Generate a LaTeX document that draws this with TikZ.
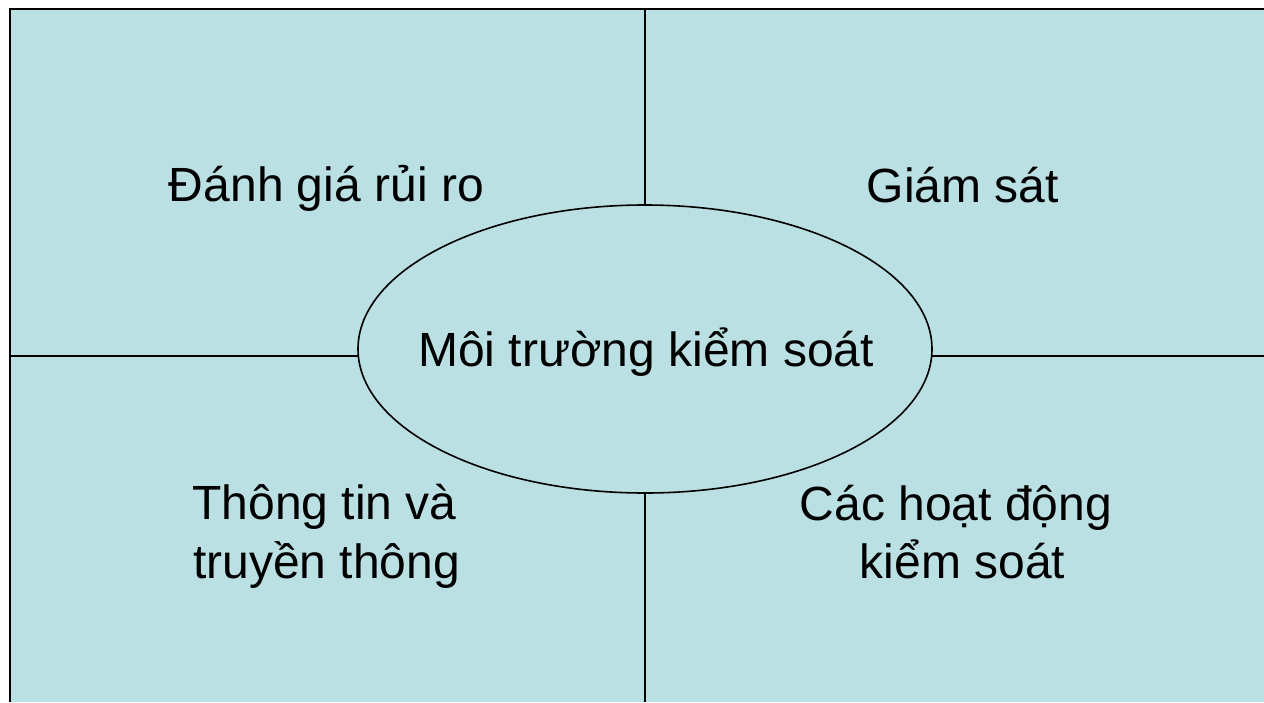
\documentclass[tikz,border=0pt]{standalone}
\usepackage{fontspec}
\setmainfont{Liberation Sans}
\usetikzlibrary{shapes.geometric}
\definecolor{panel}{RGB}{186,224,227}
\tikzset{
  lbl/.style={font=\fontsize{48}{56}\selectfont, inner sep=0pt, anchor=base, text=black},
  rule/.style={draw=black, line width=1.6pt},
  frame/.style={draw=black, line width=2pt},
}
\begin{document}
\begin{tikzpicture}[x=1pt,y=-1pt]
\useasboundingbox (0,0) rectangle (1264,702);
\fill[panel] (10,9) rectangle (1264,702);
\draw[frame] (9,9) -- (1264,9);
\draw[frame] (10,8) -- (10,702);
\coordinate (ntop) at (645,9);
\coordinate (nbot) at (645,702);
\coordinate (wl) at (10,356);
\coordinate (er) at (1264,356);
\draw[rule] (ntop) -- (nbot);
\draw[rule] (wl) -- (er);
\node[ellipse, draw=black, line width=1.6pt, fill=panel, minimum width=574pt, minimum height=288pt, inner sep=0pt] (ell) at (645,349) {};
\node[lbl] (center) at (646,366.7) {Môi trường kiểm soát};
\node[lbl] (risk) at (326.4,201.7) {Đánh giá rủi ro};
\node[lbl] (mon) at (963,202) {Giám sát};
\node[lbl] (info1) at (324.5,519) {Thông tin và};
\node[lbl] (info2) at (326.5,578) {truyền thông};
\node[lbl] (act1) at (956,520) {Các hoạt động};
\node[lbl] (act2) at (962.5,578) {kiểm soát};
\end{tikzpicture}
\end{document}
